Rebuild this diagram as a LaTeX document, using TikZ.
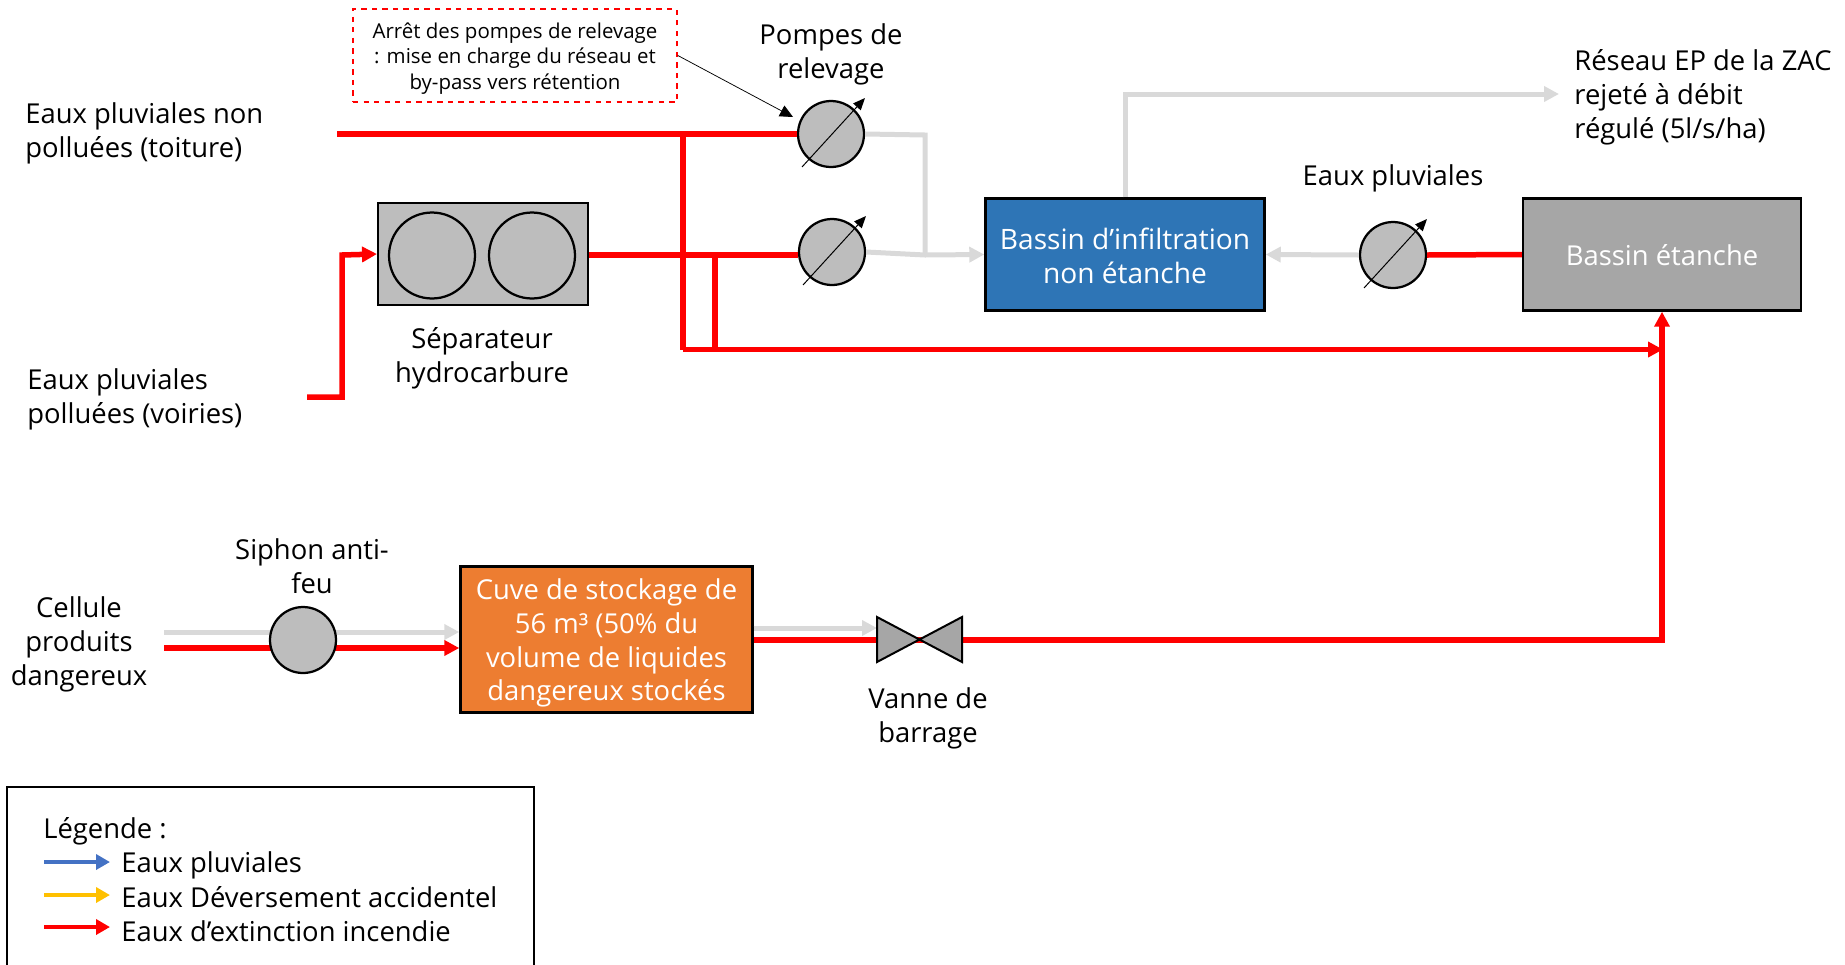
\documentclass[tikz,border=0pt]{standalone}
\usepackage{fontspec}
\setmainfont{Open Sans}
\usetikzlibrary{arrows.meta,positioning}
\definecolor{flowred}{HTML}{FF0000}
\definecolor{flowgrey}{HTML}{D9D9D9}
\definecolor{flowblue}{HTML}{4472C4}
\definecolor{flowyellow}{HTML}{FFC000}
\definecolor{pumpgrey}{HTML}{BDBDBD}
\definecolor{tankgrey}{HTML}{A6A6A6}
\definecolor{tankblue}{HTML}{2E75B6}
\definecolor{tankorange}{HTML}{ED7D31}
\newcommand{\bigtext}{\fontsize{15.6}{19.3}\selectfont}
\newcommand{\smalltext}{\fontsize{11.65}{14.5}\selectfont}

\begin{document}
\begin{tikzpicture}[x=0.02cm,y=0.02cm]
\tikzstyle{every node}+=[inner sep=0pt]
\tikzstyle{label}=[font=\bigtext,align=center]
\tikzstyle{leftlabel}=[font=\bigtext,align=left,anchor=west]
\tikzstyle{tank}=[draw=black,line width=0.05cm,text=white,font=\bigtext,align=center]
\tikzstyle{pump}=[circle,draw=black,line width=0.045cm,fill=pumpgrey,minimum size=1.32cm]
\tikzstyle{hole}=[circle,draw=black,line width=0.045cm,fill=pumpgrey,minimum size=1.72cm]
\tikzstyle{redline}=[flowred,line width=0.11cm]
\tikzstyle{greyline}=[flowgrey,line width=0.1cm]
\tikzstyle{tip}=[-{Triangle[length=0.3cm,width=0.3cm]}]
\tikzstyle{keyline}=[line width=0.09cm,-{Triangle[length=0.28cm,width=0.3cm]}]
\useasboundingbox (0,0) rectangle (1845,-964);

% tanks
\node [tank,fill=tankblue,minimum width=5.58cm,minimum height=2.24cm] (infil) at (1125,-254.5) {};
\node [tank,fill=tankgrey,minimum width=5.56cm,minimum height=2.24cm] (etanche) at (1662,-254.5) {};
\node [tank,fill=tankorange,minimum width=5.84cm,minimum height=2.92cm] (cuve) at (606.5,-639.5) {};
\node [label,text=white,font=\fontsize{16}{19.3}\selectfont] (infill) at (1125,-256) {Bassin d’infiltration\\non étanche};
\node [label,text=white] (etanchel) at (1662,-255.5) {Bassin étanche};
\node [label,text=white] (cuvel) at (606.5,-643) {Cuve de stockage de\\56 m³ (50\% du\\volume de liquides\\dangereux stockés};
\node [draw=black,line width=0.04cm,fill=pumpgrey,minimum width=4.2cm,minimum height=2.04cm] (sep) at (483,-254) {};
\node [hole] (sep1) at (432,-255.5) {};
\node [hole] (sep2) at (532,-255.5) {};

% pumps
\node [pump] (pump1) at (831,-134) {};
\node [pump] (pump2) at (832,-252) {};
\node [pump] (pump3) at (1393,-255) {};
\foreach \p in {pump1,pump2,pump3}
  \draw [black,line width=0.02cm,-{Triangle[length=0.24cm,width=0.2cm]}] ([shift={(-29,-33)}]\p.center) -- ([shift={(34,36)}]\p.center);

% grey flows
\coordinate (bendtop) at (925,-135);
\coordinate (bendlow) at (925,-255);
\coordinate (netup) at (1125,-94);
\coordinate (netend) at (1559,-94);
\draw [greyline] (pump1.east) -- (bendtop) -- (bendlow);
\draw [greyline,tip] (pump2.east) -- (bendlow) -- (infil.west);
\draw [greyline,tip] (pump3.west) -- (infil.east);
\draw [greyline,tip] (infil.north) -- (netup) -- (netend);

% red flows
\coordinate (roof) at (337,-134);
\coordinate (road) at (307,-397);
\coordinate (roadup) at (342,-397);
\coordinate (roadin) at (342,-255);
\coordinate (drop1) at (683,-134);
\coordinate (drop2) at (683,-349.5);
\coordinate (drop3) at (715,-255);
\coordinate (drop4) at (715,-349.5);
\coordinate (mainend) at (1663,-349.5);
\coordinate (riser) at (1662,-640);
\draw [redline] (roof) -- (pump1.west);
\draw [redline,tip] (road) -- (roadup) -- (roadin) -- (sep.west);
\draw [redline] (sep.east |- drop3) -- (pump2.west |- drop3);
\draw [redline] (drop1) -- (drop2);
\draw [redline] (drop3) -- (drop4);
\draw [redline,tip] (drop2) -- (mainend);
\draw [redline] (pump3.east) -- (etanche.west);

% fire line
\coordinate (greyin) at (164,-632);
\coordinate (redin) at (164,-648);
\coordinate (valve) at (919.5,-640);
\coordinate (valveg) at (877,-628);
\draw [greyline,tip] (greyin) -- (greyin -| cuve.west);
\draw [redline,tip] (redin) -- (redin -| cuve.west);
\draw [greyline,tip] (valveg -| cuve.east) -- (valveg);
\draw [redline] (cuve.east |- valve) -- (valve);
\draw [redline,tip] (valve) -- (riser) -- (etanche.south);
\node [pump] (siphon) at (303,-640) {};
\draw [black,line width=0.04cm,fill=tankgrey] (877,-617) -- (962,-662) -- (962,-617) -- (877,-662) -- cycle;

% note
\node [draw=flowred,dashed,line width=0.035cm,minimum width=6.48cm,minimum height=1.86cm] (note) at (515,-55.5) {};
\node [font=\smalltext,align=center] (notel) at (515,-58.5) {Arrêt des pompes de relevage\\: mise en charge du réseau et\\by-pass vers rétention};
\coordinate (notetip) at (793,-117);
\draw [black,line width=0.015cm,-{Triangle[length=0.26cm,width=0.24cm]}] (note.east) -- (notetip);

% labels
\node [leftlabel] (roofl) at (25,-133) {Eaux pluviales non\\polluées (toiture)};
\node [leftlabel] (roadl) at (27,-399) {Eaux pluviales\\polluées (voiries)};
\node [label] (sepl) at (482,-358) {Séparateur\\hydrocarbure};
\node [label] (pumpl) at (831,-54) {Pompes de\\relevage};
\node [leftlabel] (netl) at (1574,-97) {Réseau EP de la ZAC\\rejeté à débit\\régulé (5l/s/ha)};
\node [label] (rainl) at (1393,-178) {Eaux pluviales};
\node [label] (siphl) at (312,-566) {Siphon anti-\\feu};
\node [label] (celll) at (79,-644) {Cellule\\produits\\dangereux};
\node [label] (valvl) at (928,-718) {Vanne de\\barrage};

% legend
\node [draw=black,line width=0.03cm,minimum width=10.54cm,minimum height=4cm] (legend) at (270.5,-887) {};
\node [leftlabel] (legt) at (43,-831) {Légende :};
\node [leftlabel] (leg1) at (121,-865) {Eaux pluviales};
\node [leftlabel] (leg2) at (121,-897) {Eaux Déversement accidentel};
\node [leftlabel] (leg3) at (121,-931) {Eaux d’extinction incendie};
\coordinate (key1) at (44,-862);
\coordinate (key2) at (44,-895);
\coordinate (key3) at (44,-927);
\coordinate (keyend) at (110,-900);
\draw [keyline,flowblue] (key1) -- (key1 -| keyend);
\draw [keyline,flowyellow] (key2) -- (key2 -| keyend);
\draw [keyline,flowred] (key3) -- (key3 -| keyend);
\end{tikzpicture}
\end{document}
